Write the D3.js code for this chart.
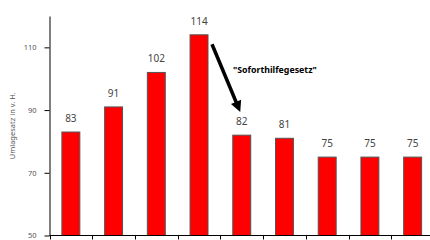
<!DOCTYPE html>
<html>
<head>
<meta charset="utf-8">
<script src="https://cdn.jsdelivr.net/npm/d3@7"></script>
<style>
  html, body { margin: 0; padding: 0; background: #fff; overflow: hidden; }
  svg { display: block; }
</style>
</head>
<body>
<div class="chart"></div>
<script>
// Data
const categories = ["1", "2", "3", "4", "5", "6", "7", "8", "9"];
const values = [83, 91, 102, 114, 82, 81, 75, 75, 75];
const yTicks = [50, 70, 90, 110];
const yTitle = "Umlagesatz in v. H.";
const note = "\"Soforthilfegesetz\"";

const width = 430, height = 240;
let font = "'Noto Sans', 'DejaVu Sans', sans-serif";

let svg = d3.select("div.chart").append("svg")
    .attr("width", width)
    .attr("height", height);

// Scales
let x = d3.scaleBand()
    .domain(categories)
    .range([49.5, 434])
    .paddingInner(0.58)
    .paddingOuter(0.29);

let y = d3.scaleLinear()
    .domain([50, 120])
    .range([235.5, 16]);

// Bars
svg.selectAll("rect.bar")
  .data(values)
  .enter().append("rect")
    .attr("class", "bar")
    .attr("x", (d, i) => x(categories[i]))
    .attr("y", d => y(d))
    .attr("width", x.bandwidth())
    .attr("height", d => y(50) - y(d))
    .attr("fill", "#ff0000")
    .attr("stroke", "#555")
    .attr("stroke-width", 1);

// Value labels
svg.selectAll("text.val")
  .data(values)
  .enter().append("text")
    .attr("class", "val")
    .attr("x", (d, i) => x(categories[i]) + x.bandwidth() / 2)
    .attr("y", d => y(d) - 10)
    .attr("text-anchor", "middle")
    .style("font-family", font)
    .style("font-size", "10px")
    .style("fill", "#444")
    .text(d => d);

// Y axis
let yAxis = svg.append("g")
    .attr("transform", "translate(49.5,0)")
    .call(d3.axisLeft(y).tickValues(yTicks).tickSize(5).tickPadding(8).tickSizeOuter(0));
yAxis.select(".domain").attr("stroke", "#000");
yAxis.selectAll("text")
    .style("font-family", font)
    .style("font-size", "7.5px")
    .style("fill", "#555");

// X axis (ticks at band edges)
let xAxis = svg.append("g")
    .attr("transform", "translate(0,235.5)");
xAxis.append("line")
    .attr("x1", 49.5).attr("x2", width)
    .attr("stroke", "#000");
xAxis.selectAll("line.tick")
  .data(categories)
  .enter().append("line")
    .attr("class", "tick")
    .attr("x1", d => Math.round(x(d) - x.step() * x.paddingOuter()) + 0.5)
    .attr("x2", d => Math.round(x(d) - x.step() * x.paddingOuter()) + 0.5)
    .attr("y1", 0).attr("y2", 4)
    .attr("stroke", "#000");

// Y title
svg.append("text")
    .attr("transform", "translate(15," + y(85) + ") rotate(-90)")
    .attr("text-anchor", "middle")
    .style("font-family", font)
    .style("font-size", "7.5px")
    .style("fill", "#555")
    .text(yTitle);

// Annotation arrow: from beside bar 4 down to the label of bar 5
let x0 = x(categories[3]) + x.bandwidth() + 4, y0 = y(111);
let x1 = x(categories[4]) + x.bandwidth() / 2 - 1.5, y1 = y(89.4);
let len = Math.hypot(x1 - x0, y1 - y0);
let ux = (x1 - x0) / len, uy = (y1 - y0) / len;
let head = 11, half = 5.5;
let bx = x1 - ux * head, by = y1 - uy * head;

svg.append("line")
    .attr("x1", x0).attr("y1", y0)
    .attr("x2", bx + ux * 1).attr("y2", by + uy * 1)
    .attr("stroke", "#000")
    .attr("stroke-width", 3.5);

svg.append("path")
    .attr("d", "M" + x1 + "," + y1 +
      "L" + (bx - uy * half) + "," + (by + ux * half) +
      "L" + (bx + uy * half) + "," + (by - ux * half) + "Z")
    .attr("fill", "#000");

svg.append("text")
    .attr("x", 233)
    .attr("y", 73)
    .style("font-family", font)
    .style("font-size", "8.8px")
    .style("font-weight", "bold")
    .style("fill", "#000")
    .text(note);
</script>
</body>
</html>
